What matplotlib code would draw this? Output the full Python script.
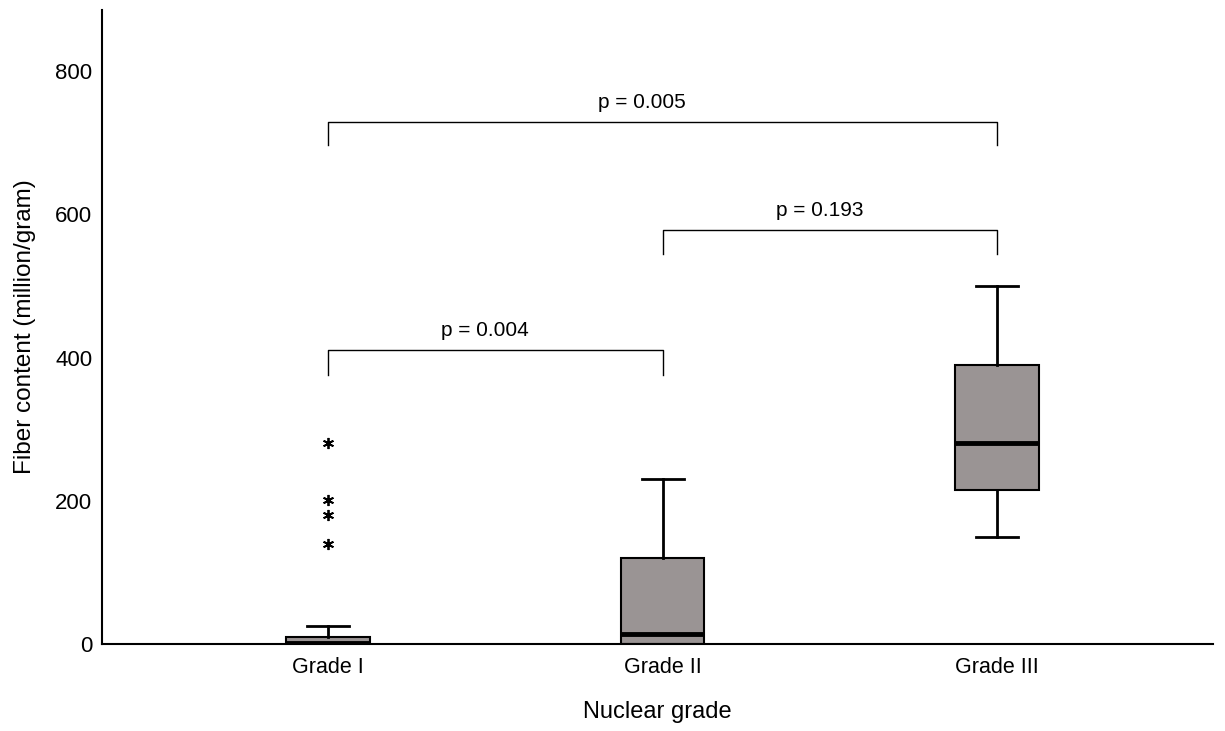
import matplotlib
matplotlib.use("Agg")
import matplotlib.pyplot as plt

plt.rcParams['font.family'] = ['Liberation Sans', 'DejaVu Sans']

categories = ["Grade I", "Grade II", "Grade III"]
q1 = [0, 0, 215]
medians = [2, 14, 280]
q3 = [10, 120, 390]
whislo = [0, 0, 150]
whishi = [25, 230, 500]
outliers = [[140, 180, 201, 280], [], []]

comparisons = [(0, 1, "p = 0.004", 410, 375),
               (1, 2, "p = 0.193", 578, 544),
               (0, 2, "p = 0.005", 729, 697)]
label_shift = [-0.03, -0.03, -0.063]
yticks = [0, 200, 400, 600, 800]

fig = plt.figure(figsize=(12.25, 7.31), dpi=100)
ax = fig.add_axes([0.0833, 0.119, 0.907, 0.867])

stats = []
for i, c in enumerate(categories):
    stats.append(dict(label=c, q1=q1[i], med=medians[i], q3=q3[i],
                      whislo=whislo[i], whishi=whishi[i], fliers=outliers[i]))

positions = [1, 2, 3]
ax.bxp(stats, positions=positions, widths=0.25, patch_artist=True,
       boxprops=dict(facecolor='#9a9494', edgecolor='black', linewidth=1.5),
       medianprops=dict(color='black', linewidth=3.5),
       whiskerprops=dict(color='black', linewidth=2),
       capprops=dict(color='black', linewidth=2),
       capwidths=0.125,
       flierprops=dict(marker=(6, 2, 0), markerfacecolor='black', markeredgecolor='black',
                       markersize=8, markeredgewidth=1.3, linestyle='none'))

for k, (a, b, txt, ytop, yleg) in enumerate(comparisons):
    xa, xb = positions[a], positions[b]
    ax.plot([xa, xa, xb, xb], [yleg, ytop, ytop, yleg], color='black', linewidth=1)
    ax.text((xa + xb) / 2 + label_shift[k], ytop + 14, txt, ha='center', va='bottom', fontsize=15)

ax.set_xlim(0.324, 3.646)
ax.set_ylim(0, 885)
ax.set_yticks(yticks)
ax.set_xticks(positions)
ax.set_xticklabels(categories)
ax.tick_params(axis='x', length=0, labelsize=15.5, pad=9)
ax.tick_params(axis='y', length=0, labelsize=16, pad=7)
ax.spines['top'].set_visible(False)
ax.spines['right'].set_visible(False)
ax.spines['left'].set_linewidth(1.5)
ax.spines['bottom'].set_linewidth(1.5)
ax.set_xlabel("Nuclear grade", fontsize=17, labelpad=17)
ax.set_ylabel("Fiber content (million/gram)", fontsize=17.5, labelpad=14)

fig.savefig("out.png", dpi=100)
